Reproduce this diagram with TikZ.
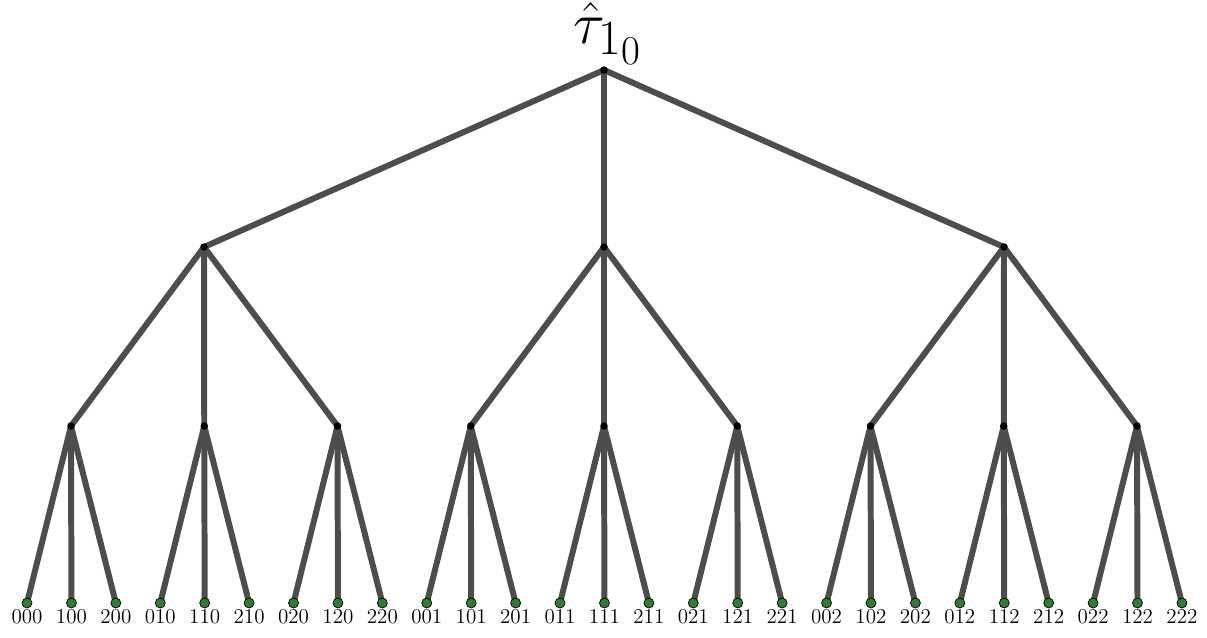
\documentclass[tikz,border=0pt]{standalone}
\usetikzlibrary{backgrounds}
\definecolor{edgegray}{HTML}{4D4D4D}
\definecolor{leafgreen}{HTML}{2E7D32}
\begin{document}
\begin{tikzpicture}[x=0.02cm,y=-0.02cm,
	edge/.style={line width=3.4pt,draw=edgegray},
	knot/.style={circle,fill=black,inner sep=0pt,minimum size=0.15cm},
	leaf/.style={circle,fill=leafgreen,draw=black,line width=0.4pt,inner sep=0pt,minimum size=0.2cm},
	lab/.style={font=\fontsize{12}{14}\selectfont,text height=1.5ex,text depth=0pt,inner sep=1pt}]
	\useasboundingbox (0,0) rectangle (1207,637);
	% root and its label
	\node[knot] (r) at (604,70) {};
	\node[anchor=south,inner sep=0.5pt,xshift=0.08cm,scale=1.35,font=\Huge] (rlab) at (r.north) {$\hat{\tau}_{1_0}$};
	% first level
	\foreach \i in {0,1,2} \node[knot] (a\i) at (204+400*\i,247) {};
	% second level
	\foreach \i in {0,...,8} \node[knot] (b\i) at (71+133.25*\i,426) {};
	% leaves
	\foreach \i in {0,...,26} {
		\pgfmathtruncatemacro{\p}{mod(\i,3)}
		\pgfmathtruncatemacro{\q}{mod(div(\i,3),3)}
		\pgfmathtruncatemacro{\s}{div(\i,9)}
		\node[leaf] (c\i) at (27+44.42*\i,603) {};
		\node[lab,below=1pt] (l\i) at (c\i.south) {\p\q\s};
	}
	\begin{scope}[on background layer]
		\foreach \i in {0,1,2} \draw[edge] (r.center) -- (a\i.center);
		\foreach \i in {0,...,8} {
			\pgfmathtruncatemacro{\k}{div(\i,3)}
			\draw[edge] (a\k.center) -- (b\i.center);
		}
		\foreach \i in {0,...,26} {
			\pgfmathtruncatemacro{\k}{div(\i,3)}
			\draw[edge] (b\k.center) -- (c\i.center);
		}
	\end{scope}
\end{tikzpicture}
\end{document}
